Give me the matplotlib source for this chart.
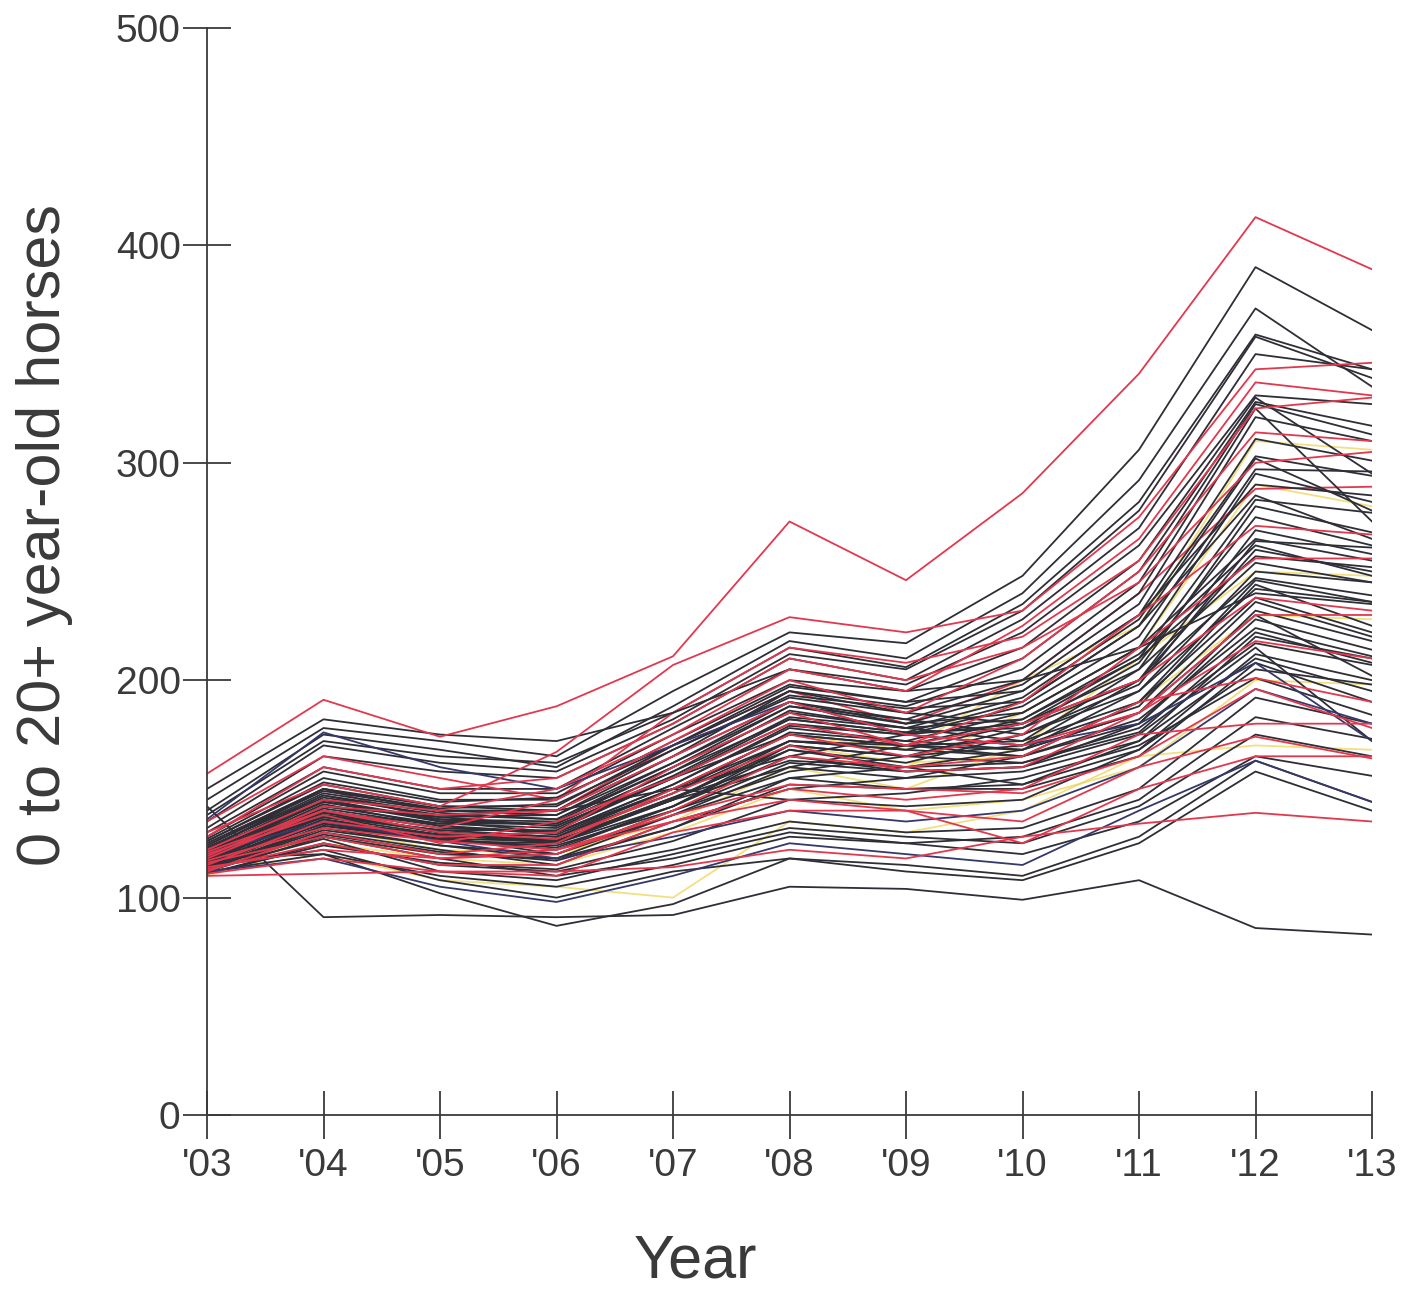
import matplotlib
matplotlib.use("Agg")
import matplotlib.pyplot as plt

# years on the x axis
years = [2003, 2004, 2005, 2006, 2007, 2008, 2009, 2010, 2011, 2012, 2013]
year_labels = ["'03", "'04", "'05", "'06", "'07", "'08", "'09", "'10", "'11", "'12", "'13"]
y_ticks = [0, 100, 200, 300, 400, 500]

# horse counts per individual series (values per year)
red_series = [
    [157, 191, 174, 188, 211, 273, 246, 286, 341, 413, 389],
    [130, 152, 142, 167, 207, 229, 222, 232, 275, 343, 346],
    [122, 145, 140, 150, 175, 205, 195, 225, 265, 337, 331],
    [118, 140, 132, 145, 172, 200, 185, 210, 250, 314, 310],
    [125, 150, 135, 140, 170, 195, 180, 200, 240, 288, 289],
    [115, 135, 128, 130, 160, 185, 170, 190, 230, 271, 267],
    [112, 130, 120, 125, 150, 175, 165, 175, 215, 256, 256],
    [120, 138, 125, 135, 155, 180, 170, 180, 200, 238, 232],
    [116, 128, 118, 120, 140, 165, 160, 165, 190, 201, 190],
    [113, 125, 115, 115, 135, 150, 145, 150, 175, 180, 180],
    [111, 118, 112, 110, 130, 140, 140, 135, 160, 174, 164],
    [110, 111, 112, 112, 114, 122, 118, 128, 134, 139, 135],
    [128, 160, 150, 155, 180, 210, 200, 215, 245, 300, 305],
    [135, 165, 155, 145, 185, 215, 208, 220, 255, 325, 330],
    [119, 142, 138, 140, 165, 190, 175, 170, 185, 230, 230],
    [114, 122, 118, 122, 135, 145, 140, 125, 150, 165, 165],
    [121, 140, 130, 127, 148, 170, 158, 160, 185, 218, 210],
    [117, 132, 126, 122, 138, 152, 150, 148, 165, 196, 178],
]

dark_series = [
    [145, 178, 172, 165, 195, 222, 217, 248, 306, 390, 361],
    [140, 175, 168, 160, 188, 218, 210, 240, 292, 371, 335],
    [138, 172, 165, 162, 185, 215, 206, 235, 282, 359, 343],
    [135, 170, 162, 158, 182, 212, 205, 232, 278, 358, 339],
    [132, 165, 158, 155, 180, 210, 200, 228, 270, 350, 343],
    [130, 160, 150, 150, 178, 205, 198, 222, 262, 331, 327],
    [128, 158, 148, 148, 175, 200, 195, 215, 255, 330, 295],
    [127, 155, 145, 145, 172, 198, 190, 210, 250, 328, 317],
    [126, 152, 142, 142, 170, 195, 188, 205, 245, 327, 313],
    [124, 150, 140, 140, 168, 192, 185, 200, 240, 325, 273],
    [123, 148, 140, 138, 165, 190, 182, 198, 235, 321, 310],
    [122, 146, 138, 136, 162, 188, 180, 195, 230, 311, 301],
    [121, 145, 136, 135, 160, 185, 178, 192, 228, 303, 294],
    [120, 144, 135, 134, 158, 182, 176, 190, 225, 302, 278],
    [119, 142, 134, 132, 155, 180, 175, 188, 220, 297, 296],
    [118, 140, 132, 130, 152, 178, 172, 185, 215, 295, 282],
    [117, 138, 130, 128, 150, 175, 170, 182, 210, 283, 277],
    [116, 136, 128, 127, 148, 172, 168, 180, 205, 280, 268],
    [115, 135, 127, 126, 145, 170, 165, 178, 200, 269, 258],
    [114, 133, 126, 125, 142, 168, 162, 175, 198, 264, 261],
    [118, 145, 135, 130, 150, 165, 175, 180, 210, 257, 252],
    [116, 140, 130, 125, 145, 160, 170, 172, 205, 254, 245],
    [114, 136, 128, 120, 140, 158, 165, 170, 200, 247, 239],
    [113, 132, 124, 118, 138, 155, 160, 168, 195, 242, 236],
    [112, 130, 122, 115, 135, 150, 155, 165, 190, 238, 222],
    [121, 147, 137, 133, 155, 175, 170, 168, 185, 230, 202],
    [119, 143, 133, 129, 150, 172, 168, 165, 182, 224, 211],
    [117, 139, 130, 126, 146, 168, 160, 162, 178, 217, 207],
    [115, 134, 127, 123, 142, 165, 158, 160, 175, 215, 172],
    [113, 131, 124, 120, 138, 160, 155, 158, 172, 210, 195],
    [112, 128, 120, 118, 132, 155, 150, 150, 165, 208, 190],
    [122, 150, 140, 140, 150, 145, 148, 155, 170, 201, 184],
    [111, 125, 115, 112, 122, 135, 130, 132, 150, 192, 180],
    [116, 128, 118, 110, 118, 130, 125, 128, 145, 183, 173],
    [112, 120, 110, 105, 115, 128, 125, 120, 135, 165, 156],
    [114, 122, 108, 100, 112, 118, 115, 110, 128, 163, 144],
    [142, 91, 92, 91, 92, 105, 104, 99, 108, 86, 83],
    [118, 120, 102, 87, 97, 118, 112, 108, 125, 158, 140],
    [150, 182, 175, 172, 185, 205, 195, 200, 215, 240, 235],
    [125, 150, 142, 140, 165, 195, 185, 180, 200, 260, 250],
    [123, 147, 139, 136, 160, 188, 182, 175, 195, 250, 245],
    [121, 144, 136, 133, 156, 183, 178, 172, 190, 246, 236],
    [119, 141, 133, 130, 152, 179, 175, 170, 188, 244, 225],
    [117, 138, 131, 128, 148, 176, 172, 168, 185, 236, 220],
    [115, 135, 129, 125, 145, 172, 170, 165, 180, 228, 214],
    [113, 133, 127, 122, 142, 170, 165, 162, 176, 222, 208],
    [120, 142, 137, 138, 162, 190, 180, 185, 215, 265, 255],
    [118, 139, 134, 134, 158, 186, 178, 182, 212, 262, 248],
    [116, 137, 131, 131, 155, 182, 176, 178, 208, 275, 262],
    [124, 149, 141, 143, 168, 193, 187, 190, 225, 285, 265],
    [126, 153, 144, 146, 170, 197, 190, 195, 230, 290, 285],
    [111, 124, 116, 113, 126, 145, 142, 145, 168, 212, 200],
    [114, 129, 121, 117, 132, 152, 150, 152, 172, 220, 210],
    [117, 134, 126, 124, 140, 162, 158, 160, 180, 232, 218],
    [113, 127, 112, 108, 120, 132, 128, 125, 142, 175, 165],
    [119, 137, 129, 126, 146, 163, 160, 152, 168, 205, 198],
]

navy_series = [
    [120, 135, 126, 118, 128, 140, 135, 140, 160, 196, 180],
    [136, 176, 160, 150, 170, 190, 175, 170, 180, 208, 172],
    [112, 118, 105, 98, 110, 125, 120, 115, 140, 163, 144],
]

yellow_series = [
    [117, 138, 128, 125, 150, 175, 168, 200, 225, 310, 306],
    [113, 128, 120, 118, 140, 165, 160, 185, 215, 290, 280],
    [115, 132, 122, 120, 135, 160, 150, 170, 210, 250, 248],
    [112, 120, 108, 105, 100, 135, 130, 140, 165, 170, 168],
    [119, 140, 130, 128, 145, 170, 162, 165, 190, 230, 228],
    [110, 125, 118, 115, 130, 150, 140, 145, 160, 200, 198],
]

text_color = "#3a3a3a"
plt.rcParams["font.family"] = ["Liberation Sans", "DejaVu Sans"]

fig = plt.figure(figsize=(14.07, 12.96), dpi=100)
ax = fig.add_axes([207 / 1407, 181 / 1296, 1165 / 1407, 1087 / 1296])

# faint ones first, dark on top
for s in yellow_series:
    ax.plot(years, s, color="#ecd24a", lw=1.3, alpha=0.7)
for i, s in enumerate(dark_series):
    ax.plot(years, s, color="#2e2e36", lw=1.3)
    if i % 9 == 4 and i < len(red_series):
        ax.plot(years, red_series[i], color="#e2384e", lw=1.3)
for s in navy_series:
    ax.plot(years, s, color="#34386a", lw=1.3)
for i, s in enumerate(red_series):
    if not (i % 9 == 4):
        ax.plot(years, s, color="#e2384e", lw=1.3)

ax.set_xlim(2003, 2013)
ax.set_ylim(0, 500)
ax.set_xticks(years)
ax.set_xticklabels(year_labels)
ax.set_yticks(y_ticks)

for side in ["top", "right"]:
    ax.spines[side].set_visible(False)
for side in ["left", "bottom"]:
    ax.spines[side].set_color(text_color)
    ax.spines[side].set_linewidth(1.3)

ax.tick_params(axis="both", direction="inout", length=35, width=1.3,
               colors=text_color, labelsize=28)
ax.tick_params(axis="x", pad=6)
ax.tick_params(axis="y", pad=1.5)
for lab in ax.get_xticklabels() + ax.get_yticklabels():
    lab.set_color(text_color)

fig.text(45 / 1407, 1 - 535 / 1296, "0 to 20+ year-old horses", rotation=90,
         ha="center", va="center", fontsize=44, color=text_color)
fig.text(695 / 1407, 1 - 1262 / 1296, "Year", ha="center", va="center",
         fontsize=44, color=text_color)

fig.savefig("out.png", dpi=100, facecolor="white")
